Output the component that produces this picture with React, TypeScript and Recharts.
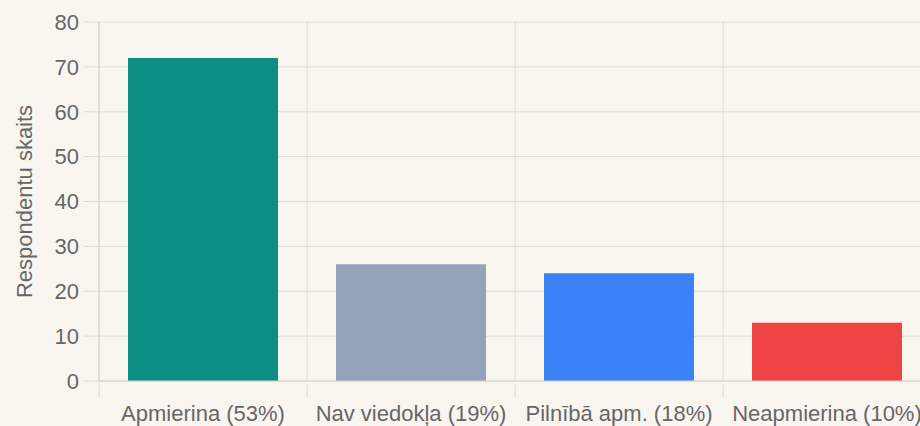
import React from "react";
import { BarChart, Bar, XAxis, YAxis, CartesianGrid, Cell } from "recharts";

const categories = ["Apmierina (53%)", "Nav viedokļa (19%)", "Pilnībā apm. (18%)", "Neapmierina (10%)"];
const counts = [72, 26, 24, 13];
const barColors = ["#0b8e83", "#94a3b8", "#3b82f6", "#ef4444"];
const yTicks = [0, 10, 20, 30, 40, 50, 60, 70, 80];

const data = categories.map((name, i) => ({ name, value: counts[i] }));

const FONT = "'Liberation Sans', Arial, sans-serif";
const GRID = "#dedad4";

function XTick(props: any) {
  const { x, y, payload } = props;
  const left = x - (payload.offset || 0);
  return (
    <g>
      <line x1={left} x2={left} y1={y} y2={y + 15} stroke={GRID} strokeWidth={1} />
      <text x={x} y={y + 38} textAnchor="middle" fill="#666" fontSize={22} fontFamily={FONT}>
        {payload.value}
      </text>
    </g>
  );
}

export default function App() {
  return (
    <div
      style={{
        position: "fixed",
        left: 0,
        top: 0,
        width: 920,
        height: 426,
        overflow: "hidden",
        background: "#f9f6f0",
      }}
    >
      <BarChart
        width={940}
        height={426}
        data={data}
        margin={{ top: 22, right: 9, bottom: 0, left: 0 }}
        barCategoryGap={29}
      >
        <CartesianGrid
          stroke={GRID}
          verticalCoordinatesGenerator={({ offset }: any) =>
            categories.map((_, i) => offset.left + (i * offset.width) / categories.length)
          }
        />
        <XAxis
          dataKey="name"
          height={45}
          tickLine={false}
          axisLine={{ stroke: "#d4d1cb" }}
          tickSize={0}
          tick={<XTick />}
          interval={0}
        />
        <YAxis
          width={99}
          domain={[0, 80]}
          ticks={yTicks}
          tickSize={15}
          tickMargin={5}
          tickLine={{ stroke: GRID }}
          axisLine={{ stroke: "#d4d1cb" }}
          tick={{ fill: "#666", fontSize: 22, fontFamily: FONT }}
          label={{
            value: "Respondentu skaits",
            angle: -90,
            position: "center",
            dx: -25,
            fill: "#666",
            fontSize: 22,
            fontFamily: FONT,
          }}
        />
        <Bar dataKey="value" isAnimationActive={false}>
          {data.map((_, i) => (
            <Cell key={i} fill={barColors[i]} />
          ))}
        </Bar>
      </BarChart>
    </div>
  );
}
